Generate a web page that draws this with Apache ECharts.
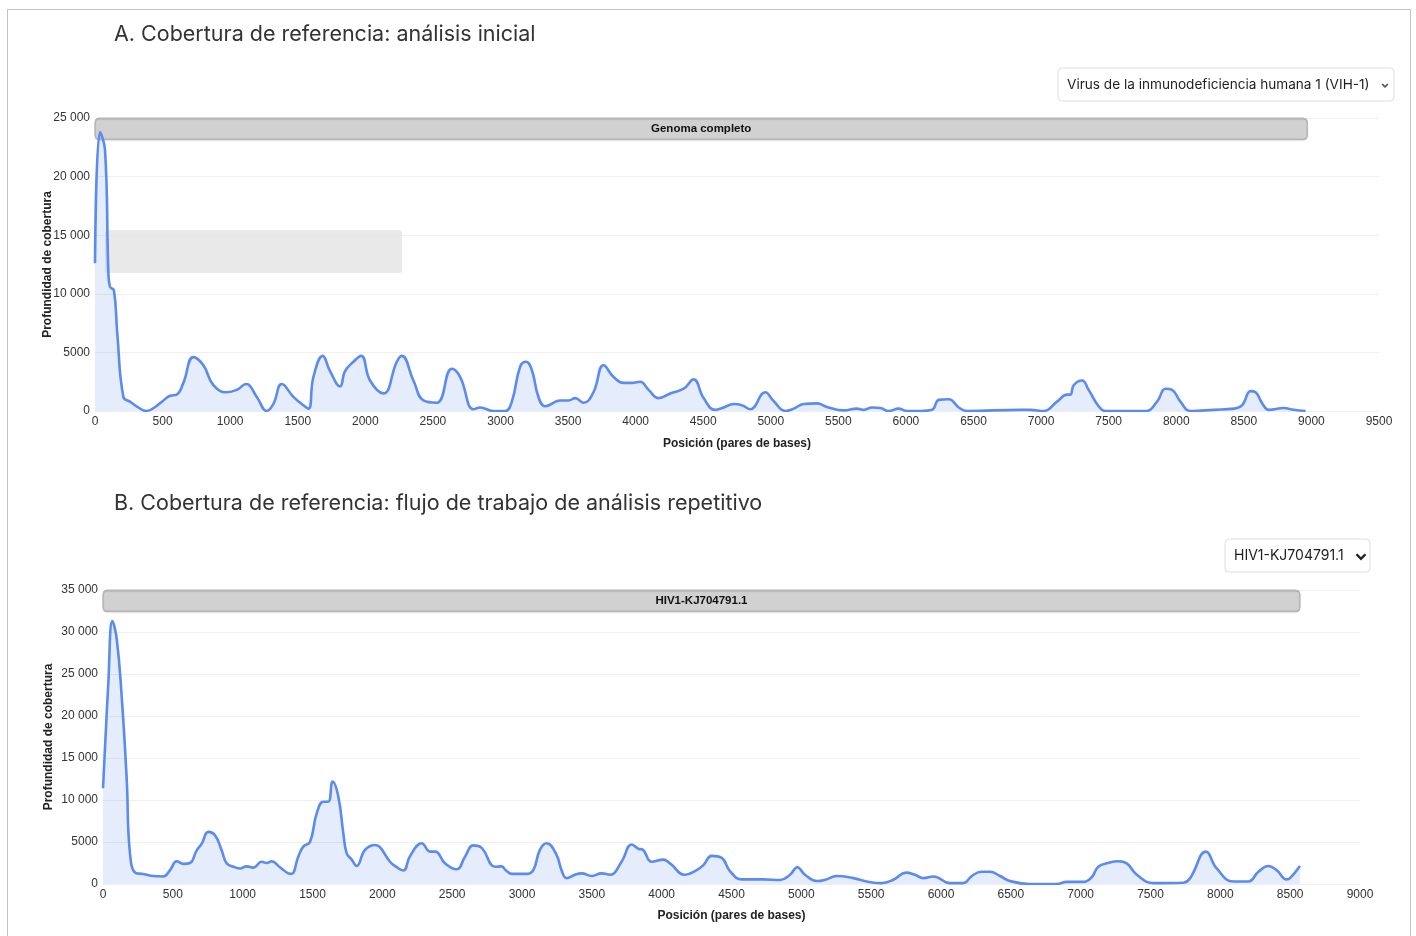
<!DOCTYPE html>
<html lang="es">
<head>
<meta charset="utf-8">
<title>Cobertura de referencia</title>
<script src="https://cdn.jsdelivr.net/npm/echarts@6/dist/echarts.min.js"></script>
<style>
  html, body { margin: 0; padding: 0; background: #fff; }
  #wrap { position: relative; width: 1416px; height: 936px; overflow: hidden; }
  #frame { position: absolute; left: 7px; top: 9px; width: 1404px; height: 960px;
           border: 1.5px solid #c4c4c4; box-sizing: border-box; }
  #chart { position: absolute; left: 0; top: 0; width: 1416px; height: 936px; }
</style>
</head>
<body>
<div id="wrap">
  <div id="frame"></div>
  <div id="chart"></div>
</div>
<script>
// Panel A: initial analysis, coverage depth along the genome
const titleA = 'A. Cobertura de referencia: análisis inicial';
const refA = 'Virus de la inmunodeficiencia humana 1 (VIH-1)';
const barLabelA = 'Genoma completo';
const genomeLenA = 8970;
const posA = [0, 37, 74, 99, 111, 140, 165, 210, 259, 308, 382, 440, 506, 555, 604, 654, 728, 802, 876, 975,
  1049, 1118, 1197, 1271, 1320, 1382, 1468, 1530, 1579, 1616, 1685, 1739, 1813, 1850, 1912, 1969, 2035, 2134, 2233, 2270,
  2356, 2430, 2529, 2640, 2702, 2800, 2850, 2948, 3035, 3084, 3146, 3190, 3232, 3281, 3331, 3442, 3504, 3553, 3615, 3688,
  3763, 3837, 3911, 3973, 4034, 4096, 4170, 4256, 4355, 4429, 4503, 4589, 4651, 4725, 4787, 4848, 4959, 5021, 5107, 5170,
  5243, 5342, 5416, 5539, 5638, 5687, 5749, 5811, 5872, 5946, 6008, 6107, 6193, 6243, 6317, 6391, 6452, 6847, 6920, 7019,
  7118, 7192, 7217, 7241, 7303, 7352, 7426, 7476, 7772, 7858, 7920, 7969, 8031, 8105, 8278, 8426, 8488, 8550, 8587, 8636,
  8685, 8796, 8870, 8957];
const depthA = [12600, 23800, 22300, 11800, 10600, 10300, 6600, 1200, 800, 400, 0, 300, 900, 1300, 1400, 2400, 4600, 3900, 2200, 1600,
  1800, 2300, 1200, 0, 600, 2300, 1200, 600, 200, 2900, 4700, 3400, 2100, 3400, 4200, 4700, 2600, 1500, 4200, 4700,
  2600, 900, 700, 3600, 2900, 150, 300, 0, 0, 800, 3800, 4200, 3500, 1200, 400, 900, 900, 1100, 700, 1600,
  3900, 2900, 2400, 2400, 2500, 1800, 1100, 1500, 1900, 2700, 1100, 100, 300, 600, 500, 150, 1600, 850, 0, 200,
  600, 650, 350, 50, 200, 100, 300, 250, 0, 200, 0, 0, 100, 950, 1000, 300, 0, 100, 100, 0,
  800, 1400, 1400, 2200, 2600, 1800, 400, 0, 0, 800, 1900, 1800, 800, 0, 100, 200, 500, 1700, 1600, 650,
  100, 250, 100, 0];

// Panel B: repetitive analysis workflow
const titleB = 'B. Cobertura de referencia: flujo de trabajo de análisis repetitivo';
const refB = 'HIV1-KJ704791.1';
const barLabelB = 'HIV1-KJ704791.1';
const genomeLenB = 8570;
const posB = [0, 38, 67, 98, 134, 170, 193, 236, 289, 360, 432, 480, 528, 576, 623, 671, 707, 754, 802, 850,
  886, 945, 981, 1028, 1076, 1136, 1172, 1207, 1267, 1327, 1350, 1398, 1434, 1482, 1530, 1578, 1613, 1644, 1685, 1721,
  1745, 1781, 1816, 1876, 1948, 1983, 2055, 2103, 2150, 2198, 2282, 2342, 2378, 2450, 2532, 2592, 2651, 2711, 2807, 2854,
  2880, 2926, 3034, 3081, 3129, 3177, 3248, 3283, 3320, 3379, 3427, 3499, 3570, 3630, 3713, 3785, 3833, 3864, 3928, 4012,
  4060, 4167, 4251, 4299, 4358, 4430, 4490, 4573, 4728, 4848, 4919, 4971, 5026, 5110, 5170, 5253, 5372, 5468, 5575, 5659,
  5749, 5814, 5874, 5946, 6064, 6160, 6220, 6291, 6351, 6423, 6494, 6637, 6828, 6900, 7019, 7079, 7126, 7198, 7270, 7330,
  7402, 7521, 7736, 7784, 7897, 7974, 8093, 8201, 8272, 8343, 8403, 8475, 8499, 8570];
const depthB = [11400, 23900, 31300, 29200, 22300, 12400, 3650, 1300, 1200, 950, 900, 1650, 2700, 2400, 2500, 4000, 4800, 6200, 5800, 4000,
  2450, 2000, 1850, 2100, 1950, 2650, 2500, 2700, 2000, 1270, 1200, 3250, 4450, 5000, 8400, 9800, 9800, 12200, 10400, 6000,
  3650, 2900, 2150, 4050, 4650, 4400, 2650, 2000, 1600, 3300, 4850, 3850, 3850, 2450, 1750, 3250, 4600, 4300, 2050, 2100,
  1700, 1200, 1200, 1650, 4100, 4850, 3450, 1650, 700, 1100, 1270, 950, 1270, 1100, 2650, 4700, 4200, 4100, 2650, 2900,
  2450, 1100, 1650, 2250, 3350, 3100, 1500, 550, 550, 480, 1100, 2000, 1100, 350, 500, 950, 700, 300, 100, 500,
  1350, 1100, 700, 900, 100, 100, 950, 1450, 1450, 950, 350, 0, 0, 250, 250, 800, 2050, 2500, 2700, 2450,
  1100, 100, 150, 700, 3850, 1850, 300, 300, 1450, 2150, 1650, 550, 700, 2150];

const yTitle = 'Profundidad de cobertura';
const xTitle = 'Posición (pares de bases)';

const FONT = '"Liberation Sans", Arial, sans-serif';
const LINE = '#5b8bec';
const FILL = 'rgba(110, 150, 240, 0.25)';

function fmtDepth(v) {
  if (v >= 10000) return String(v).replace(/\B(?=(\d{3})+(?!\d))/g, ' ');
  return String(v);
}
function pairs(xs, ys) { return xs.map((x, i) => [x, ys[i]]); }

function yAxisCfg(gi, max, gap) {
  return {
    type: 'value', gridIndex: gi, min: 0, max: max, interval: 5000,
    name: yTitle, nameLocation: 'middle', nameGap: gap, nameRotate: 90, nameMoveOverlap: false,
    nameTextStyle: { fontFamily: FONT, fontWeight: 'bold', fontSize: 12, color: '#222' },
    axisLine: { show: false }, axisTick: { show: false },
    axisLabel: { formatter: fmtDepth, fontFamily: FONT, fontSize: 12, color: '#333', margin: 5 },
    splitLine: { lineStyle: { color: '#efefef', width: 1 } }
  };
}
function xAxisCfg(gi, max, gap) {
  return {
    type: 'value', gridIndex: gi, min: 0, max: max, interval: 500,
    name: xTitle, nameLocation: 'middle', nameGap: gap, nameMoveOverlap: false,
    nameTextStyle: { fontFamily: FONT, fontWeight: 'bold', fontSize: 12, color: '#222' },
    axisLine: { show: false }, axisTick: { show: false },
    axisLabel: { formatter: v => String(v), fontFamily: FONT, fontSize: 12, color: '#333', margin: 5,
                 showMinLabel: true, showMaxLabel: true },
    splitLine: { show: false }
  };
}
function coverageSeries(gi, xs, ys) {
  return {
    type: 'line', xAxisIndex: gi, yAxisIndex: gi, data: pairs(xs, ys),
    smooth: 0.45, showSymbol: false, z: 6,
    lineStyle: { color: LINE, width: 2.6 },
    areaStyle: { color: FILL }
  };
}
// Reference extent bar, drawn across the top of the plot from 0 to the genome length
function genomeBar(gi, len, yMax, label) {
  return {
    type: 'custom', xAxisIndex: gi, yAxisIndex: gi, z: 4, silent: true,
    data: [[0, len]],
    renderItem: function (params, api) {
      const s = api.coord([api.value(0), yMax]);
      const e = api.coord([api.value(1), yMax]);
      return {
        type: 'group',
        children: [
          { type: 'rect', shape: { x: s[0], y: s[1], width: e[0] - s[0], height: 21, r: 4 },
            style: { fill: '#d1d1d1', stroke: '#b4b4b4', lineWidth: 1,
                     shadowColor: 'rgba(0,0,0,0.22)', shadowBlur: 1, shadowOffsetY: 1 } },
          { type: 'text', x: (s[0] + e[0]) / 2, y: s[1] + 10.5,
            style: { text: label, fill: '#111', font: 'bold 11.5px ' + FONT, align: 'center', verticalAlign: 'middle' } }
        ]
      };
    }
  };
}
// Reference selector box with a chevron
function selector(x, y, w, h, text, fontSize, chevronBold) {
  const cx = x + w - 9, cy = y + h / 2 + 1;
  const d = chevronBold ? 4.5 : 2.8;
  return {
    type: 'group', z: 10,
    children: [
      { type: 'rect', shape: { x: x, y: y, width: w, height: h, r: 4 },
        style: { fill: '#fff', stroke: '#dedede', lineWidth: 1 } },
      { type: 'text', x: x + 9, y: y + h / 2,
        style: { text: text, fill: '#1e1e1e', font: fontSize + 'px Inter, "Open Sans", sans-serif', verticalAlign: 'middle' } },
      { type: 'polyline', shape: { points: [[cx - d, cy - d / 2], [cx, cy + d / 2], [cx + d, cy - d / 2]] },
        style: { stroke: chevronBold ? '#222' : '#555', lineWidth: chevronBold ? 2.4 : 1.6, fill: null } }
    ]
  };
}

const chart = echarts.init(document.getElementById('chart'), null, { renderer: 'canvas' });
chart.setOption({
  animation: false,
  backgroundColor: 'transparent',
  title: [
    { text: titleA, left: 109, top: 19,
      textStyle: { fontFamily: 'Inter, sans-serif', fontWeight: 400, fontSize: 21.5, color: '#333' } },
    { text: titleB, left: 109, top: 488,
      textStyle: { fontFamily: 'Inter, sans-serif', fontWeight: 400, fontSize: 21.5, color: '#333' } }
  ],
  grid: [
    { left: 95, right: 37, top: 118, height: 293 },
    { left: 103, right: 56, top: 590, height: 294 }
  ],
  xAxis: [xAxisCfg(0, 9500, 27), xAxisCfg(1, 9000, 26)],
  yAxis: [yAxisCfg(0, 25000, 41), yAxisCfg(1, 35000, 48)],
  series: [
    genomeBar(0, genomeLenA, 25000, barLabelA),
    coverageSeries(0, posA, depthA),
    genomeBar(1, genomeLenB, 35000, barLabelB),
    coverageSeries(1, posB, depthB)
  ],
  graphic: [
    selector(1058, 68, 336, 33, refA, 13.6, false),
    selector(1225, 539, 145, 33, refB, 14, true),
    // faded panel left over in the upper plot
    { type: 'rect', z: 1, silent: true,
      shape: { x: 105, y: 230, width: 297, height: 43, r: 3 },
      style: { fill: 'rgba(228,228,228,0.8)' } }
  ]
});
</script>
</body>
</html>
